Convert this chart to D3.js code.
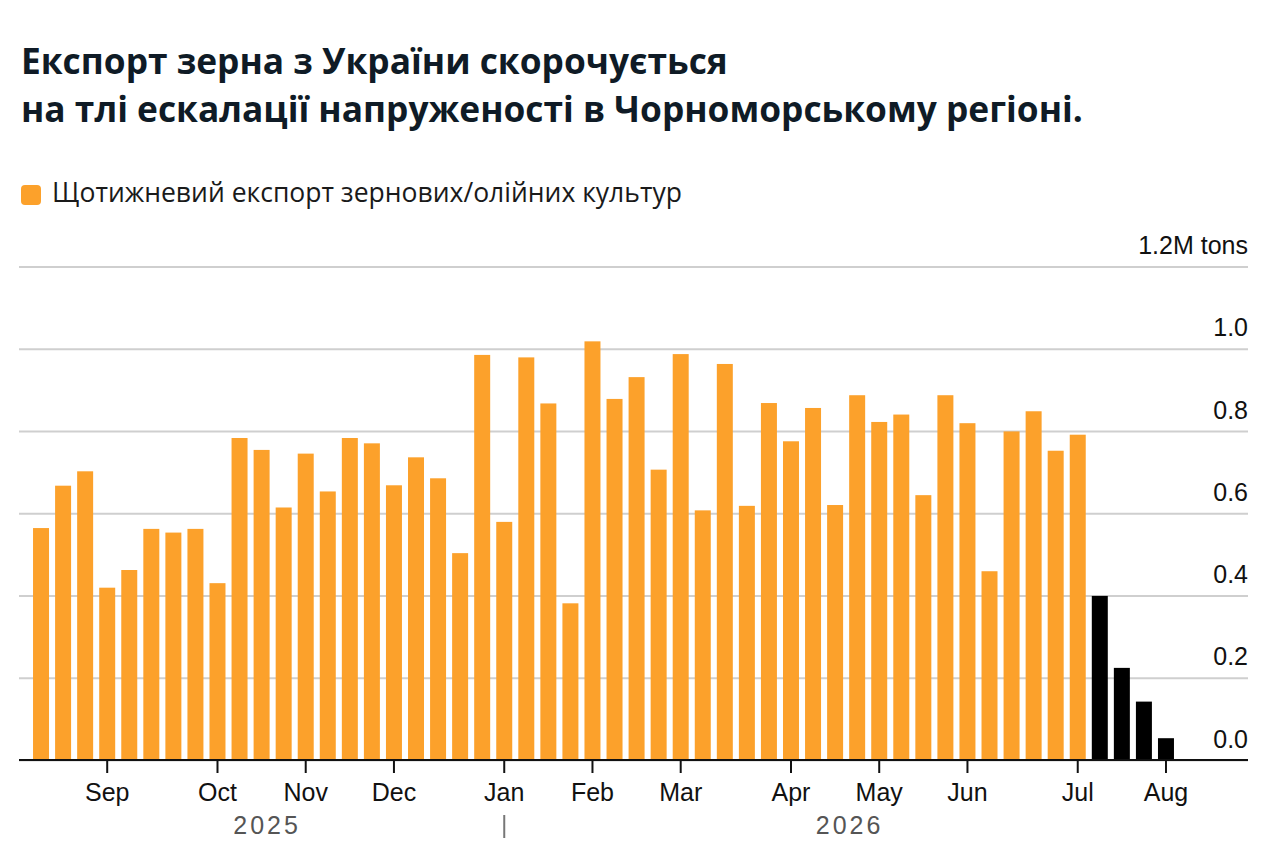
<!DOCTYPE html>
<html>
<head>
<meta charset="utf-8">
<script src="https://cdn.jsdelivr.net/npm/d3@7"></script>
<style>
  body { margin: 0; background: #fff; }
  svg { display: block; }
</style>
</head>
<body>
<svg width="1280" height="863"></svg>
<script>
const svg = d3.select('svg');
const width = +svg.attr('width');
const height = +svg.attr('height');

// chart text
const titleLines = [
    'Експорт зерна з України скорочується',
    'на тлі ескалації напруженості в Чорноморському регіоні.'
];
const legendLabel = 'Щотижневий експорт зернових/олійних культур';

// weekly categories (Mondays), Aug 2025 - Aug 2026
const fmtWeek = d3.timeFormat('%Y-%m-%d');
const weeks = d3.timeMonday.range(new Date(2025, 7, 11), new Date(2026, 7, 4)).map(fmtWeek);

// million tons
const weeklyExports = [
    0.564, 0.667, 0.702, 0.419, 0.462, 0.562, 0.553, 0.562, 0.430, 0.783,
    0.754, 0.614, 0.745, 0.653, 0.783, 0.770, 0.668, 0.736, 0.685, 0.503,
    0.985, 0.579, 0.979, 0.867, 0.381, 1.018, 0.878, 0.931, 0.706, 0.987,
    0.607, 0.963, 0.618, 0.868, 0.775, 0.856, 0.620, 0.887, 0.822, 0.840,
    0.644, 0.887, 0.819, 0.459, 0.799, 0.848, 0.752, 0.791
];
// latest weeks, drawn in black
const latestExports = [0.399, 0.224, 0.142, 0.053];

const monthTicks = [
    '2025-09-01', '2025-10-06', '2025-11-03', '2025-12-01', '2026-01-05', '2026-02-02',
    '2026-03-02', '2026-04-06', '2026-05-04', '2026-06-01', '2026-07-06', '2026-08-03'
];
const monthLabels = ['Sep', 'Oct', 'Nov', 'Dec', 'Jan', 'Feb', 'Mar', 'Apr', 'May', 'Jun', 'Jul', 'Aug'];
const yTicks = [0, 0.2, 0.4, 0.6, 0.8, 1.0, 1.2];
const years = ['2025', '2026'];

const data = weeks.map((w, i) => ({
    week: w,
    value: i < weeklyExports.length ? weeklyExports[i] : latestExports[i - weeklyExports.length],
    latest: i >= weeklyExports.length
}));

const ORANGE = '#fca12b';
const gridLeft = 19, gridRight = 1248;

const xScale = d3.scaleBand()
    .domain(weeks)
    .range([30, 1177])
    .paddingInner(0.275)
    .paddingOuter(0.1375);

const yScale = d3.scaleLinear()
    .domain([0, 1.2])
    .range([760, 266.5]);

// title
svg.append('g')
    .selectAll('text')
    .data(titleLines)
    .enter()
    .append('text')
    .attr('x', 21)
    .attr('y', (d, i) => 74 + i * 48)
    .attr('font-family', '"Open Sans", "Noto Sans", sans-serif')
    .attr('font-weight', 700)
    .attr('font-size', 35.3)
    .attr('fill', '#0f1b26')
    .text(d => d);

// legend
const legend = svg.append('g');
legend.append('rect')
    .attr('x', 21).attr('y', 185)
    .attr('width', 20).attr('height', 20)
    .attr('rx', 4)
    .attr('fill', ORANGE);
legend.append('text')
    .attr('x', 52).attr('y', 202)
    .attr('font-family', '"Open Sans", "Noto Sans", sans-serif')
    .attr('font-size', 26.5)
    .attr('fill', '#1a1a1a')
    .text(legendLabel);

// y grid + labels
const yAxis = d3.axisRight(yScale)
    .tickValues(yTicks)
    .tickSize(gridRight - gridLeft)
    .tickFormat(d => d === 1.2 ? '1.2M tons' : d3.format('.1f')(d));

const yG = svg.append('g')
    .attr('transform', `translate(${gridLeft},0)`)
    .call(yAxis);
yG.select('.domain').remove();
yG.selectAll('.tick line')
    .attr('stroke', '#cfcfcf')
    .attr('stroke-width', 2);
yG.selectAll('.tick text')
    .attr('x', gridRight - gridLeft)
    .attr('dy', -13)
    .attr('text-anchor', 'end')
    .attr('font-family', '"Liberation Sans", Arial, sans-serif')
    .attr('font-size', 25)
    .attr('fill', '#111');

// bars
svg.append('g')
    .selectAll('rect')
    .data(data)
    .enter()
    .append('rect')
    .attr('x', d => xScale(d.week))
    .attr('y', d => yScale(d.value))
    .attr('width', xScale.bandwidth())
    .attr('height', d => yScale(0) - yScale(d.value))
    .attr('fill', d => d.latest ? '#000' : ORANGE);

// x axis
const xAxis = d3.axisBottom(xScale)
    .tickValues(monthTicks)
    .tickSize(13)
    .tickPadding(10)
    .tickFormat((d, i) => monthLabels[i]);

const xG = svg.append('g')
    .attr('transform', `translate(0,${yScale(0)})`)
    .call(xAxis);
xG.select('.domain').remove();
xG.selectAll('.tick line')
    .attr('stroke', '#111')
    .attr('stroke-width', 2);
xG.selectAll('.tick text')
    .attr('font-family', '"Liberation Sans", Arial, sans-serif')
    .attr('font-size', 25)
    .attr('fill', '#111');

// baseline
svg.append('line')
    .attr('x1', gridLeft).attr('x2', gridRight)
    .attr('y1', yScale(0)).attr('y2', yScale(0))
    .attr('stroke', '#111')
    .attr('stroke-width', 2);

// years
const janX = xScale('2026-01-05') + xScale.bandwidth() / 2;
const yearCenters = [(30 + janX) / 2, (janX + 1195) / 2];
svg.append('g')
    .selectAll('text')
    .data(years)
    .enter()
    .append('text')
    .attr('x', (d, i) => yearCenters[i])
    .attr('y', 834)
    .attr('text-anchor', 'middle')
    .attr('font-family', '"Liberation Sans", Arial, sans-serif')
    .attr('font-size', 25)
    .attr('letter-spacing', 3)
    .attr('fill', '#555')
    .text(d => d);

svg.append('line')
    .attr('x1', janX).attr('x2', janX)
    .attr('y1', 815).attr('y2', 838)
    .attr('stroke', '#777')
    .attr('stroke-width', 2);
</script>
</body>
</html>
